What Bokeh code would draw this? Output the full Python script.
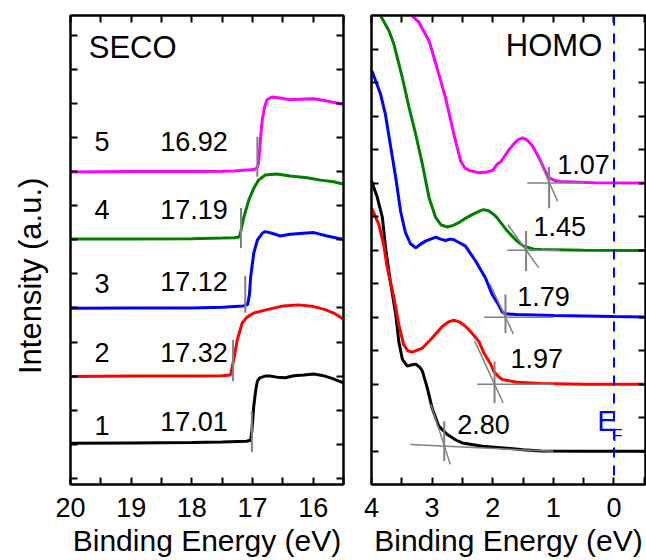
from bokeh.plotting import figure
from bokeh.models import Range1d, LinearAxis, FixedTicker, Span, CustomJSTickFormatter
from bokeh.layouts import row
from bokeh.embed import file_html
from bokeh.resources import INLINE
from bokeh.core.properties import value

FONT = "Liberation Sans"
GRAY = "#808080"
COLORS = ["black", "#ff0000", "#0000ff", "#008000", "#ff00ff"]

# ---------------- SECO data (binding energy, intensity offset) ----------------
seco1_x = [20.0, 19.0, 18.0, 17.5, 17.1, 17.03, 17.01, 16.98, 16.95, 16.92, 16.88, 16.79, 16.7, 16.6, 16.46, 16.32, 16.15, 15.99, 15.85, 15.7, 15.5]
seco1_y = [1.03, 1.04, 1.05, 1.07, 1.09, 1.12, 1.4, 2.1, 2.55, 2.85, 2.95, 3.0, 3.0, 2.97, 2.95, 3.01, 3.03, 3.06, 3.02, 2.94, 2.8]
seco2_x = [20.0, 19.0, 18.0, 17.5, 17.38, 17.36, 17.31, 17.25, 17.17, 17.09, 16.98, 16.76, 16.49, 16.24, 15.99, 15.8, 15.66, 15.5]
seco2_y = [2.99, 3.0, 3.0, 3.01, 3.03, 3.05, 3.48, 4.07, 4.56, 4.73, 4.85, 4.95, 5.06, 5.09, 5.04, 4.95, 4.85, 4.67]
seco3_x = [20.0, 19.0, 18.0, 17.5, 17.15, 17.08, 17.05, 17.03, 16.98, 16.92, 16.84, 16.79, 16.68, 16.54, 16.38, 16.16, 15.99, 15.77, 15.5]
seco3_y = [4.99, 5.0, 5.0, 5.02, 5.06, 5.1, 5.4, 5.92, 6.6, 6.99, 7.19, 7.24, 7.19, 7.11, 7.16, 7.19, 7.21, 7.11, 7.01]
seco4_x = [20.0, 19.0, 18.0, 17.5, 17.3, 17.22, 17.2, 17.14, 17.06, 16.98, 16.9, 16.79, 16.6, 16.38, 16.1, 15.88, 15.66, 15.5]
seco4_y = [7.02, 7.02, 7.03, 7.05, 7.06, 7.08, 7.19, 7.68, 8.17, 8.51, 8.75, 8.9, 8.93, 8.87, 8.82, 8.75, 8.7, 8.63]
seco5_x = [20.0, 19.0, 18.0, 17.5, 17.31, 16.98, 16.93, 16.9, 16.87, 16.84, 16.8, 16.76, 16.68, 16.54, 16.38, 16.16, 15.99, 15.77, 15.5]
seco5_y = [8.99, 9.0, 9.0, 9.01, 9.02, 9.06, 9.1, 9.24, 9.92, 10.51, 10.9, 11.11, 11.19, 11.16, 11.11, 11.13, 11.14, 11.07, 10.97]

seco_onset = [17.01, 17.32, 17.12, 17.19, 16.92]
seco_mark_lo = [0.77, 2.85, 4.86, 6.76, 8.85]
seco_mark_hi = [1.97, 4.07, 5.94, 7.93, 10.02]
seco_index = ["1", "2", "3", "4", "5"]
seco_index_y = [1.54, 3.69, 5.73, 7.88, 9.88]
seco_value_text = ["17.01", "17.32", "17.12", "17.19", "16.92"]
seco_value_y = [1.68, 3.69, 5.78, 7.88, 9.88]

# ---------------- HOMO data ----------------
homo1_x = [4.0, 3.91, 3.82, 3.77, 3.69, 3.6, 3.55, 3.49, 3.41, 3.33, 3.27, 3.2, 3.16, 3.08, 3.0, 2.89, 2.75, 2.6, 2.5, 2.17, 1.82, 1.5, 1.2, 0.5, -0.5]
homo1_y = [8.06, 7.61, 6.97, 6.1, 5.07, 4.08, 3.28, 2.74, 2.54, 2.58, 2.6, 2.5, 2.39, 1.89, 1.29, 0.75, 0.5, 0.33, 0.25, 0.15, 0.1, 0.05, 0.01, 0.0, 0.0]
homo2_x = [4.0, 3.88, 3.8, 3.74, 3.63, 3.55, 3.47, 3.4, 3.33, 3.16, 3.0, 2.83, 2.72, 2.64, 2.55, 2.45, 2.37, 2.23, 2.15, 2.04, 1.98, 1.9, 1.84, 1.6, 1.2, 0.5, -0.5]
homo2_y = [7.26, 6.77, 6.17, 5.47, 4.58, 3.78, 3.18, 3.0, 2.96, 3.08, 3.38, 3.73, 3.87, 3.91, 3.86, 3.73, 3.58, 3.28, 2.95, 2.62, 2.38, 2.22, 2.14, 2.06, 2.02, 2.0, 2.0]
homo3_x = [3.99, 3.85, 3.77, 3.69, 3.6, 3.52, 3.44, 3.36, 3.27, 3.19, 3.11, 2.94, 2.86, 2.78, 2.7, 2.64, 2.45, 2.28, 2.12, 2.01, 1.93, 1.84, 1.79, 1.6, 0.99, 0.0, -0.5]
homo3_y = [11.34, 10.65, 10.05, 9.15, 8.16, 7.16, 6.52, 6.2, 6.07, 6.18, 6.27, 6.39, 6.33, 6.29, 6.33, 6.31, 6.12, 5.67, 5.17, 4.68, 4.45, 4.15, 4.1, 4.08, 4.05, 4.02, 4.01]
homo4_x = [3.9, 3.85, 3.71, 3.63, 3.49, 3.38, 3.27, 3.16, 3.05, 2.94, 2.85, 2.75, 2.65, 2.56, 2.45, 2.34, 2.2, 2.15, 2.06, 1.98, 1.93, 1.76, 1.6, 1.49, 1.43, 1.32, 1.2, 0.5, -0.5]
homo4_y = [13.15, 12.99, 12.54, 12.14, 11.14, 10.25, 9.45, 8.56, 7.56, 6.97, 6.75, 6.69, 6.74, 6.82, 6.95, 7.06, 7.18, 7.21, 7.17, 7.06, 6.97, 6.57, 6.27, 6.12, 6.09, 6.03, 6.02, 6.0, 5.99]
homo5_x = [3.38, 3.33, 3.22, 3.05, 2.92, 2.78, 2.64, 2.53, 2.46, 2.39, 2.23, 2.1, 2.0, 1.93, 1.87, 1.75, 1.65, 1.58, 1.51, 1.43, 1.35, 1.28, 1.21, 1.14, 1.07, 0.98, 0.88, 0.33, -0.5]
homo5_y = [13.15, 12.99, 12.8, 12.24, 11.44, 10.55, 9.45, 8.66, 8.45, 8.38, 8.31, 8.33, 8.38, 8.56, 8.63, 8.95, 9.18, 9.3, 9.35, 9.28, 9.12, 8.9, 8.66, 8.38, 8.16, 8.08, 8.05, 8.01, 8.0]

homo_onset = [2.80, 1.97, 1.79, 1.45, 1.07]
homo_mark_lo = [-0.3, 1.44, 3.53, 5.37, 7.25]
homo_mark_hi = [0.9, 2.69, 4.68, 6.57, 8.48]
homo_base_x0 = [3.36, 2.26, 2.14, 1.76, 1.43]
homo_base_y0 = [0.2, 2.0, 4.0, 6.0, 8.0]
homo_base_x1 = [1.0, 1.0, 1.0, 0.9, 0.5]
homo_base_y1 = [0.0, 2.0, 4.0, 6.0, 8.0]
homo_tan_x0 = [3.02, 2.3, 2.05, 1.75, 1.25]
homo_tan_y0 = [1.4, 3.3, 5.0, 6.76, 8.75]
homo_tan_x1 = [2.7, 1.83, 1.66, 1.24, 0.93]
homo_tan_y1 = [-0.39, 1.45, 3.5, 5.47, 7.46]
homo_value_text = ["2.80", "1.97", "1.79", "1.45", "1.07"]
homo_value_x = [2.586, 1.706, 1.596, 1.327, 0.936]
homo_value_y = [0.80, 2.78, 4.63, 6.72, 8.56]

seco_major = [20, 19, 18, 17, 16]
seco_minor = [19.5, 18.5, 17.5, 16.5, 15.5]
homo_major = [4, 3, 2, 1, 0]
homo_minor = [3.5, 2.5, 1.5, 0.5, -0.5]
seco_yticks = list(range(0, 14))
homo_yticks = list(range(0, 13))

EMPTY = CustomJSTickFormatter(code="return ''")


def style_axis(ax, ticks, minor, labels):
    ax.ticker = FixedTicker(ticks=ticks, minor_ticks=minor)
    ax.major_tick_in = 7
    ax.major_tick_out = 0
    ax.minor_tick_in = 7
    ax.minor_tick_out = 0
    ax.major_tick_line_width = 2
    ax.minor_tick_line_width = 2
    ax.major_tick_line_color = "black"
    ax.minor_tick_line_color = "black"
    ax.axis_line_width = 2
    ax.axis_line_color = "black"
    if labels:
        ax.major_label_text_font = FONT
        ax.major_label_text_font_size = "27px"
        ax.major_label_text_color = "black"
        ax.major_label_standoff = 13
        ax.axis_label_text_font = FONT
        ax.axis_label_text_font_size = "30px"
        ax.axis_label_text_font_style = "normal"
        ax.axis_label_text_color = "black"
        ax.axis_label_standoff = 4
    else:
        ax.formatter = EMPTY
        ax.major_label_text_font_size = "1px"
        ax.major_label_standoff = 0


def make_fig(xr, yr, fw, left, right):
    p = figure(x_range=xr, y_range=yr, frame_width=fw, frame_height=469,
               min_border_left=left, min_border_right=right,
               min_border_top=15, min_border_bottom=76,
               output_backend="svg", toolbar_location=None, tools="")
    p.grid.visible = False
    p.outline_line_color = "black"
    p.outline_line_width = 2
    p.background_fill_color = "white"
    p.border_fill_color = "white"
    return p


def add_axes(p, xmajor, xminor, yticks):
    bottom = p.below[0]
    left = p.left[0]
    style_axis(bottom, xmajor, xminor, True)
    bottom.axis_label = "Binding Energy (eV)"
    style_axis(left, yticks, [], False)
    top = LinearAxis()
    style_axis(top, xmajor, xminor, False)
    p.add_layout(top, "above")
    right = LinearAxis()
    style_axis(right, yticks, [], False)
    p.add_layout(right, "right")
    return bottom, left


# ---------------- Left panel: SECO ----------------
p1 = make_fig(Range1d(20, 15.5), Range1d(-0.18, 13.58), 273, 70, 14)
b1, l1 = add_axes(p1, seco_major, seco_minor, seco_yticks)
l1.axis_label = "Intensity (a.u.)" + "\u00a0" * 6
l1.axis_label_text_font = FONT
l1.axis_label_text_font_size = "31px"
l1.axis_label_text_font_style = "normal"
l1.axis_label_text_color = "black"
l1.axis_label_standoff = 23

for xs, ys, c in zip([seco1_x, seco2_x, seco3_x, seco4_x, seco5_x],
                     [seco1_y, seco2_y, seco3_y, seco4_y, seco5_y], COLORS):
    p1.line(xs, ys, line_color=c, line_width=3)
p1.segment(x0=seco_onset, y0=seco_mark_lo, x1=seco_onset, y1=seco_mark_hi,
           line_color=GRAY, line_width=2)
p1.text(x=[19.48] * 5, y=seco_index_y, text=seco_index, text_font=value(FONT),
        text_font_size=value("27px"), text_align="center", text_baseline="alphabetic",
        text_color="black")
p1.text(x=[18.52] * 5, y=seco_value_y, text=seco_value_text, text_font=value(FONT),
        text_font_size=value("27px"), text_align="left", text_baseline="alphabetic",
        text_color="black")
p1.text(x=[19.70], y=[12.63], text=["SECO"], text_font=value(FONT),
        text_font_size=value("31px"), text_align="left", text_baseline="alphabetic",
        text_color="black")

# ---------------- Right panel: HOMO ----------------
p2 = make_fig(Range1d(4, -0.52), Range1d(-0.99, 13.0), 274, 14, 1)
add_axes(p2, homo_major, homo_minor, homo_yticks)

for xs, ys, c in zip([homo1_x, homo2_x, homo3_x, homo4_x, homo5_x],
                     [homo1_y, homo2_y, homo3_y, homo4_y, homo5_y], COLORS):
    p2.line(xs, ys, line_color=c, line_width=3)
p2.segment(x0=homo_base_x0, y0=homo_base_y0, x1=homo_base_x1, y1=homo_base_y1,
           line_color=GRAY, line_width=1.5)
p2.segment(x0=homo_tan_x0, y0=homo_tan_y0, x1=homo_tan_x1, y1=homo_tan_y1,
           line_color=GRAY, line_width=1.5)
p2.segment(x0=homo_onset, y0=homo_mark_lo, x1=homo_onset, y1=homo_mark_hi,
           line_color=GRAY, line_width=2)
p2.add_layout(Span(location=0, dimension="height", line_color="#0000ff",
                   line_dash="10 8", line_width=2))
p2.text(x=homo_value_x, y=homo_value_y, text=homo_value_text, text_font=value(FONT),
        text_font_size=value("27px"), text_align="left", text_baseline="alphabetic",
        text_color="black")
p2.text(x=[0.193], y=[12.1], text=["HOMO"], text_font=value(FONT),
        text_font_size=value("31px"), text_align="right", text_baseline="alphabetic",
        text_color="black")
p2.text(x=[0.277], y=[0.9], text=["E"], text_font=value(FONT),
        text_font_size=value("29px"), text_align="left", text_baseline="alphabetic",
        text_color="#0000ff")
p2.text(x=[0.028], y=[0.48], text=["F"], text_font=value(FONT),
        text_font_size=value("17px"), text_align="left", text_baseline="alphabetic",
        text_color="#0000ff")

layout = row(p1, p2)
open("out.html", "w").write(file_html(layout, INLINE))
